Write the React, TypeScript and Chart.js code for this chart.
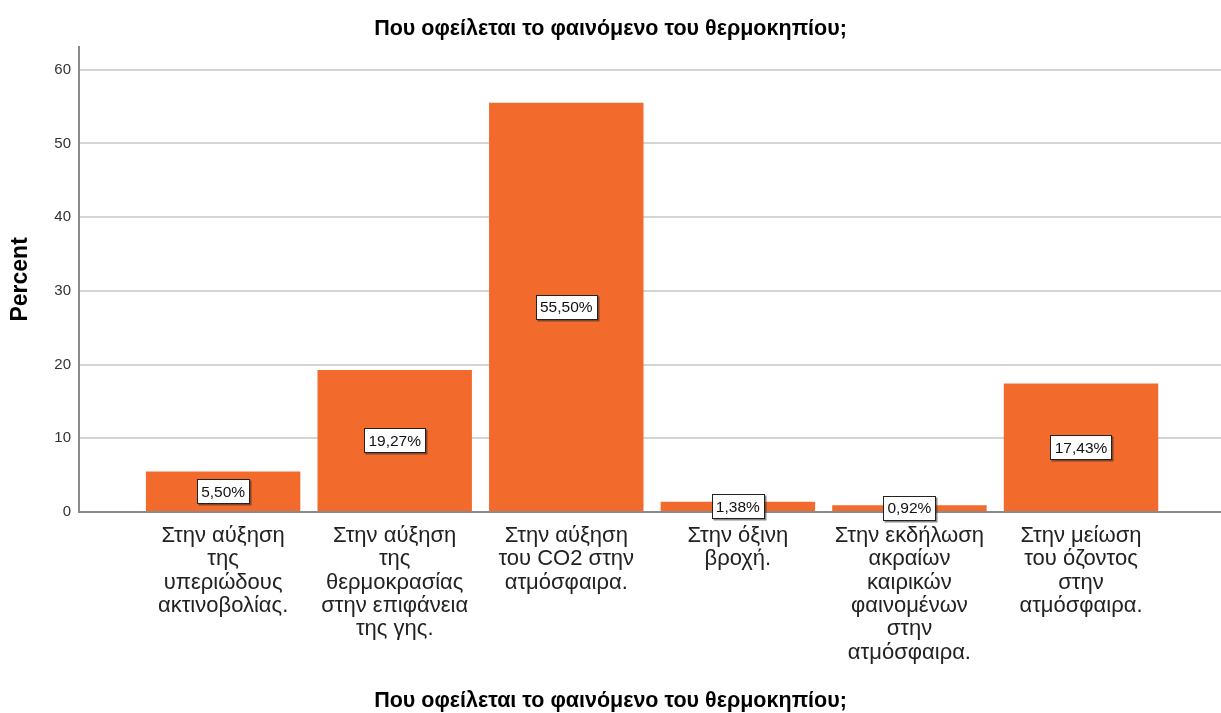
import React, { useEffect, useRef } from "react";
import { Chart, registerables } from "chart.js";

Chart.register(...registerables);

const chartTitle = "Που οφείλεται το φαινόμενο του θερμοκηπίου;";
const xAxisTitle = "Που οφείλεται το φαινόμενο του θερμοκηπίου;";
const yAxisTitle = "Percent";
const categories: string[][] = [
  ["Στην αύξηση", "της", "υπεριώδους", "ακτινοβολίας."],
  ["Στην αύξηση", "της", "θερμοκρασίας", "στην επιφάνεια", "της γης."],
  ["Στην αύξηση", "του CO2 στην", "ατμόσφαιρα."],
  ["Στην όξινη", "βροχή."],
  ["Στην εκδήλωση", "ακραίων", "καιρικών", "φαινομένων", "στην", "ατμόσφαιρα."],
  ["Στην μείωση", "του όζοντος", "στην", "ατμόσφαιρα."],
];
const percentValues = [5.5, 19.27, 55.5, 1.38, 0.92, 17.43];
const yTicks = [0, 10, 20, 30, 40, 50, 60];

const FONT = "'Liberation Sans', Arial, sans-serif";

const boxLabelPlugin = {
  id: "boxLabels",
  afterDatasetsDraw(chart: any) {
    const ctx = chart.ctx;
    const meta = chart.getDatasetMeta(0);
    ctx.save();
    ctx.font = `15.5px ${FONT}`;
    ctx.textAlign = "center";
    ctx.textBaseline = "middle";
    meta.data.forEach((el: any, i: number) => {
      const v = percentValues[i];
      const text = v.toFixed(2).replace(".", ",") + "%";
      const cx = el.x;
      const cy = (el.y + el.base) / 2;
      const w = Math.round(ctx.measureText(text).width + 8);
      const h = 24;
      const x0 = Math.round(cx - w / 2) + 0.5;
      const y0 = Math.round(cy - h / 2) + 0.5;
      ctx.fillStyle = "rgba(40,40,40,0.55)";
      ctx.fillRect(x0 + 1, y0 + 1, w + 1, h + 1);
      ctx.fillStyle = "#ffffff";
      ctx.fillRect(x0, y0, w, h);
      ctx.strokeStyle = "#222222";
      ctx.lineWidth = 1;
      ctx.strokeRect(x0, y0, w, h);
      ctx.fillStyle = "#111111";
      ctx.fillText(text, cx, cy + 1);
    });
    ctx.restore();
  },
};

export default function App() {
  const canvasRef = useRef<HTMLCanvasElement | null>(null);

  useEffect(() => {
    document.body.style.margin = "0";
    const canvas = canvasRef.current;
    if (!canvas) return;
    const chart = new Chart(canvas, {
      type: "bar",
      data: {
        datasets: [
          {
            data: percentValues.map((v, i) => ({ x: i, y: v })),
            backgroundColor: "#F26A2C",
            borderWidth: 0,
            barPercentage: 0.9,
            categoryPercentage: 1,
          },
        ],
      },
      options: {
        animation: false,
        responsive: false,
        maintainAspectRatio: false,
        layout: { padding: { left: 0, right: 0, top: 0, bottom: 0 } },
        plugins: {
          legend: { display: false },
          tooltip: { enabled: false },
          title: {
            display: true,
            text: chartTitle,
            color: "#000000",
            font: { family: FONT, size: 21.5, weight: "bold", lineHeight: 1.2 },
            padding: { top: 16, bottom: 5 },
          },
          subtitle: {
            display: true,
            position: "bottom",
            text: xAxisTitle,
            color: "#000000",
            font: { family: FONT, size: 21.5, weight: "bold", lineHeight: 1.0 },
            padding: { top: 0, bottom: 1 },
          },
        },
        scales: {
          x: {
            type: "linear",
            offset: false,
            min: -0.84,
            max: 5.816,
            afterBuildTicks: (scale: any) => {
              scale.ticks = categories.map((_, i) => ({ value: i }));
            },
            afterFit: (scale: any) => {
              scale.height = 178.5;
            },
            grid: { display: false, drawTicks: false },
            border: { display: true, color: "#8a8a8a", width: 2 },
            ticks: {
              autoSkip: false,
              maxRotation: 0,
              minRotation: 0,
              padding: 12,
              color: "#222222",
              font: { family: FONT, size: 22, lineHeight: 1.064 },
              callback: (value: any) => categories[Math.round(Number(value))] ?? "",
            },
          },
          y: {
            min: 0,
            max: 63.1,
            afterBuildTicks: (scale: any) => {
              scale.ticks = yTicks.map((v) => ({ value: v }));
            },
            afterFit: (scale: any) => {
              scale.width = 79;
            },
            grid: { color: "#d4d4d4", lineWidth: 2, drawTicks: false },
            border: { display: true, color: "#8a8a8a", width: 2 },
            ticks: {
              padding: 8,
              color: "#333333",
              font: { family: FONT, size: 15 },
            },
            title: {
              display: true,
              text: yAxisTitle,
              color: "#000000",
              font: { family: FONT, size: 23, weight: "bold", lineHeight: 1.2 },
              padding: { top: 7, bottom: 0 },
            },
          },
        },
      },
      plugins: [boxLabelPlugin],
    } as any);
    return () => chart.destroy();
  }, []);

  return (
    <div style={{ width: 1221, height: 713 }}>
      <canvas ref={canvasRef} width={1221} height={713} />
    </div>
  );
}
